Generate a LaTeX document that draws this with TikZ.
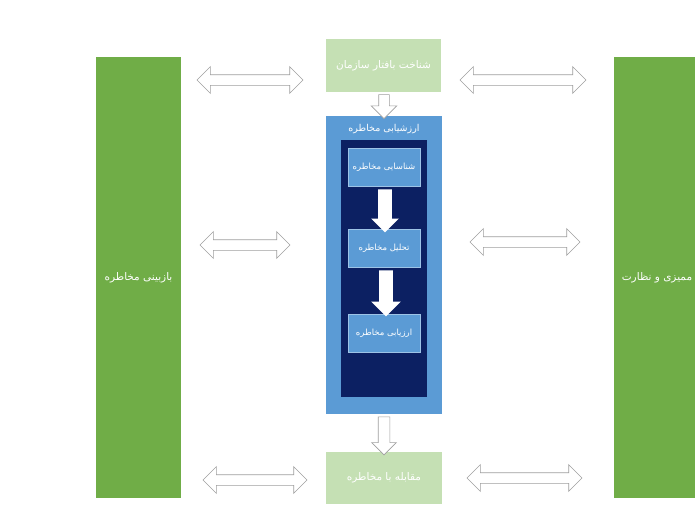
\documentclass[tikz,border=0pt]{standalone}
\usepackage{fontspec}
\newfontfamily\arabicfont[Script=Arabic]{DejaVu Sans}
\TeXXeTstate=1
\usetikzlibrary{shapes.arrows}
\definecolor{gruen}{HTML}{70AD47}
\definecolor{hellgruen}{HTML}{C5E0B4}
\definecolor{blau}{HTML}{5B9BD5}
\definecolor{nacht}{HTML}{0C2062}
\newcommand\fa[1]{{\arabicfont\beginR #1\endR}}

\begin{document}
\begin{tikzpicture}[x=1pt,y=-1pt,
  kasten/.style={rectangle,inner sep=0pt,text=white,font=\fontsize{10.5}{12}\selectfont},
  schritt/.style={kasten,fill=blau,draw=blau!60!white,minimum width=72,minimum height=38,
    font=\fontsize{8.5}{10}\selectfont},
  doppel/.style={double arrow,draw=gray!75,fill=white,inner xsep=0pt,inner ysep=5pt,
    minimum width=26pt,double arrow head extend=8pt,line width=.6pt},
  runter/.style={single arrow,rotate=-90,inner xsep=0pt,line width=.6pt}]
  \useasboundingbox[fill=white] (0,0) rectangle (695,504);
  \clip (0,0) rectangle (695,504);
  % Seitenbalken
  \node[kasten,fill=gruen,minimum width=85,minimum height=441] (links) at (138.5,277.5) {\fa{بازبینی مخاطره}};
  \node[kasten,fill=gruen,minimum width=86,minimum height=441] (rechts) at (657,277.5) {\fa{ممیزی و نظارت}};
  % Mitte
  \node[kasten,fill=hellgruen,minimum width=115,minimum height=53] (oben) at (383.5,65.5) {\fa{شناخت بافتار سازمان}};
  \node[kasten,fill=blau,minimum width=116,minimum height=298] (wert) at (384,265) {};
  \node[kasten,font=\fontsize{9.5}{11}\selectfont] (werttitel) at (384,129) {\fa{ارزشیابی مخاطره}};
  \node[kasten,fill=nacht,minimum width=86,minimum height=257] (innen) at (384,268.5) {};
  \node[schritt] (ident) at (384,167) {\fa{شناسایی مخاطره}};
  \node[schritt] (anal) at (384,248) {\fa{تحلیل مخاطره}};
  \node[schritt] (bew) at (384,333) {\fa{ارزیابی مخاطره}};
  \node[kasten,fill=hellgruen,minimum width=116,minimum height=52] (unten) at (384,478) {\fa{مقابله با مخاطره}};
  % Pfeile nach unten
  \node[runter,fill=white,draw=gray!75,minimum height=24,minimum width=25,inner ysep=5pt,single arrow head extend=7.5pt] (p0) at (384,104) {};
  \node[runter,fill=white,draw=none,minimum height=43,minimum width=27,inner ysep=6.5pt,single arrow head extend=7pt] (p1) at (385,207.5) {};
  \node[runter,fill=white,draw=none,minimum height=46,minimum width=29,inner ysep=6.5pt,single arrow head extend=8pt] (p2) at (386,290) {};
  \node[runter,fill=white,draw=gray!75,minimum height=38,minimum width=24,inner ysep=5.5pt,single arrow head extend=6.5pt] (p3) at (384,433) {};
  % Doppelpfeile
  \node[doppel,minimum height=106] (ol) at (250,80) {};
  \node[doppel,minimum height=126] (or) at (523,80) {};
  \node[doppel,minimum height=90] (ml) at (245,245) {};
  \node[doppel,minimum height=110] (mr) at (525,242) {};
  \node[doppel,minimum height=104] (ul) at (255,480) {};
  \node[doppel,minimum height=115] (ur) at (524.5,478) {};
\end{tikzpicture}
\end{document}
